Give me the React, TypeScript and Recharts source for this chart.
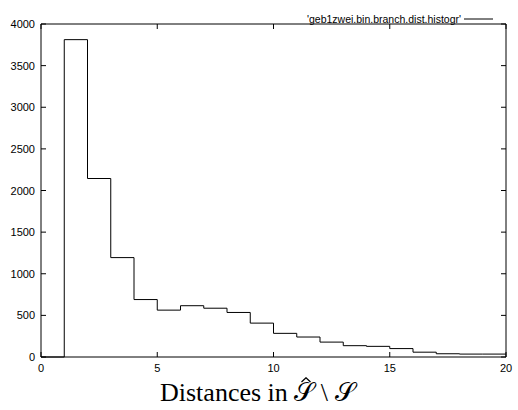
import React from 'react';
import { LineChart, Line, XAxis, YAxis, Legend } from 'recharts';

// bin start (distance) and count per bin
const distances = [0, 1, 2, 3, 4, 5, 6, 7, 8, 9, 10, 11, 12, 13, 14, 15, 16, 17, 18, 19, 20];
const counts = [0, 3812, 2144, 1194, 690, 563, 616, 586, 535, 407, 284, 240, 179, 136, 128, 101, 58, 39, 35, 35, 35];

const xTicks = [0, 5, 10, 15, 20];
const yTicks = [0, 500, 1000, 1500, 2000, 2500, 3000, 3500, 4000];

const seriesName = "'geb1zwei.bin.branch.dist.histogr'";

const data = distances.map((d, i) => ({ dist: d, count: counts[i] }));

const TICK = 5;
const labelFont = { fontFamily: '"Liberation Sans", Arial, sans-serif', fontSize: 11, fill: '#000' };

const BottomTick = ({ x, y, payload }: any) => (
  <g>
    <line x1={x} x2={x} y1={y} y2={y - TICK} stroke="#000" />
    <text x={x} y={y + 15} textAnchor="middle" {...labelFont}>
      {payload.value}
    </text>
  </g>
);

const TopTick = ({ x, y }: any) => (
  <line x1={x} x2={x} y1={y} y2={y + TICK} stroke="#000" />
);

const LeftTick = ({ x, y, payload }: any) => (
  <g>
    <line x1={x} x2={x + TICK} y1={y} y2={y} stroke="#000" />
    <text x={x - 6} y={y + 4} textAnchor="end" {...labelFont}>
      {payload.value}
    </text>
  </g>
);

const RightTick = ({ x, y }: any) => (
  <line x1={x} x2={x - TICK} y1={y} y2={y} stroke="#000" />
);

const HistLegend = () => (
  <div style={{ display: 'flex', alignItems: 'center', fontFamily: '"Liberation Sans", Arial, sans-serif', fontSize: 10.5, color: '#000' }}>
    <span>{seriesName}</span>
    <svg width={32} height={10} style={{ marginLeft: 3 }}>
      <line x1={0} x2={29} y1={5} y2={5} stroke="#000" />
    </svg>
  </div>
);

// S with a hat drawn as a small stroke, not a glyph
const HatS = () => (
  <span style={{ position: 'relative', display: 'inline-block' }}>
    𝒮
    <svg width={10} height={6} style={{ position: 'absolute', left: 7, top: -1 }}>
      <polyline points="0.5,5 5,0.8 9.5,5" fill="none" stroke="#000" strokeWidth={1.3} />
    </svg>
  </span>
);

export default function App() {
  return (
    <div style={{ position: 'absolute', left: 0, top: 0, width: 518, height: 410, background: '#fff' }}>
      <LineChart width={518} height={410} data={data} margin={{ top: 11, right: 11, bottom: 0, left: 0 }}>
        <XAxis
          xAxisId="bottom"
          dataKey="dist"
          type="number"
          domain={[0, 20]}
          ticks={xTicks}
          height={53}
          tickSize={0}
          tickMargin={0}
          tickLine={false}
          axisLine={{ stroke: '#000' }}
          tick={<BottomTick />}
          interval={0}
        />
        <XAxis
          xAxisId="top"
          orientation="top"
          dataKey="dist"
          type="number"
          domain={[0, 20]}
          ticks={xTicks}
          height={1}
          tickSize={0}
          tickMargin={0}
          tickLine={false}
          axisLine={{ stroke: '#000' }}
          tick={<TopTick />}
          interval={0}
        />
        <YAxis
          yAxisId="left"
          dataKey="count"
          type="number"
          domain={[0, 4000]}
          ticks={yTicks}
          width={41}
          tickSize={0}
          tickMargin={0}
          tickLine={false}
          axisLine={{ stroke: '#000' }}
          tick={<LeftTick />}
          interval={0}
        />
        <YAxis
          yAxisId="right"
          orientation="right"
          dataKey="count"
          type="number"
          domain={[0, 4000]}
          ticks={yTicks}
          width={1}
          tickSize={0}
          tickMargin={0}
          tickLine={false}
          axisLine={{ stroke: '#000' }}
          tick={<RightTick />}
          interval={0}
        />
        <Legend
          verticalAlign="top"
          align="right"
          content={<HistLegend />}
          wrapperStyle={{ top: 13, right: 22, left: 'auto', width: 'auto' }}
        />
        <Line
          xAxisId="bottom"
          yAxisId="left"
          type="stepAfter"
          dataKey="count"
          name={seriesName}
          stroke="#000"
          strokeWidth={1}
          dot={false}
          isAnimationActive={false}
        />
        <Line
          xAxisId="top"
          yAxisId="right"
          type="stepAfter"
          dataKey="count"
          stroke="none"
          dot={false}
          legendType="none"
          isAnimationActive={false}
        />
      </LineChart>
      <div
        style={{
          position: 'absolute',
          left: 160,
          top: 378,
          fontFamily: '"Liberation Serif", "Times New Roman", serif',
          fontSize: 26,
          lineHeight: '30px',
          color: '#000',
          whiteSpace: 'nowrap',
        }}
      >
        Distances in <HatS /> \ 𝒮
      </div>
    </div>
  );
}
